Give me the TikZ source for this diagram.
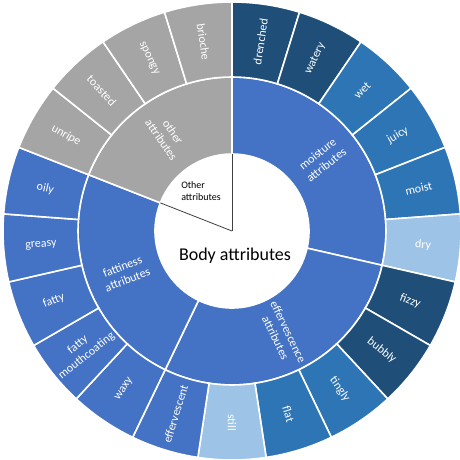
\documentclass[tikz,border=0pt]{standalone}
\usepackage{fontspec}
\setmainfont{Carlito}
\usetikzlibrary{positioning}

\definecolor{navyblue}{HTML}{1F4E79}
\definecolor{midblue}{HTML}{2E75B6}
\definecolor{lightblue}{HTML}{9DC3E6}
\definecolor{baseblue}{HTML}{4472C4}
\definecolor{othergray}{HTML}{A5A5A5}

\begin{document}
\begin{tikzpicture}[x=1pt, y=1pt,
    slice/.style={draw=white, line width=1.6pt},
    ringlabel/.style={text=white, font=\fontsize{12}{14}\selectfont, align=center, inner sep=0pt},
    holeline/.style={draw=black!75, line width=0.8pt}]

        \fill[white] (-232,-228) rectangle (228,231);
        \useasboundingbox (-232,-228) rectangle (228,231);
        \coordinate (O) at (0,0);

        % inner ring: colour / first leaf / number of leaves / label
        \foreach \col/\first/\num/\lab [count=\k] in
            {baseblue/0/6/{moisture\\attributes},
             baseblue/6/6/{effervescence\\attributes},
             baseblue/12/5/{fattiness\\attributes},
             othergray/17/4/{other\\attributes}}{
            \pgfmathsetmacro\a{90-\first*360/21}
            \pgfmathsetmacro\b{90-(\first+\num)*360/21}
            \pgfmathsetmacro\m{(\a+\b)/2}
            \pgfmathsetmacro\rot{\m>90.5 ? \m-180 : (\m<-90.5 ? \m+180 : \m)}
            \filldraw[slice, fill=\col] (\a:77) arc[start angle=\a, end angle=\b, radius=77pt]
                -- (\b:154) arc[start angle=\b, end angle=\a, radius=154pt] -- cycle;
            \node[ringlabel, rotate=\rot] (group\k) at (\m:115) {\lab};
        }

        % outer ring, one slice per leaf
        \foreach \col/\lab [count=\i from 0] in
            {navyblue/drenched, navyblue/watery, midblue/wet, midblue/juicy,
             midblue/moist, lightblue/dry, navyblue/fizzy, navyblue/bubbly,
             midblue/tingly, midblue/flat, lightblue/still, baseblue/effervescent,
             baseblue/waxy, baseblue/{fatty\\mouthcoating}, baseblue/fatty,
             baseblue/greasy, baseblue/oily, othergray/unripe, othergray/toasted,
             othergray/spongy, othergray/brioche}{
            \pgfmathsetmacro\a{90-\i*360/21}
            \pgfmathsetmacro\b{90-(\i+1)*360/21}
            \pgfmathsetmacro\m{(\a+\b)/2}
            \pgfmathsetmacro\rot{\m<-90.5 ? \m+180 : \m}
            \filldraw[slice, fill=\col] (\a:154) arc[start angle=\a, end angle=\b, radius=154pt]
                -- (\b:229) arc[start angle=\b, end angle=\a, radius=229pt] -- cycle;
            \node[ringlabel, rotate=\rot] (leaf\i) at (\m:191.5) {\lab};
        }

        % hole
        \fill[white] (O) circle[radius=75pt];
        \coordinate (holetop) at (90:77);
        \coordinate (holeother) at (158.57:77);
        \draw[holeline] (O) -- (holetop);
        \draw[holeline] (O) -- (holeother);

        \node[align=left, inner sep=0pt, font=\fontsize{10}{12}\selectfont] (other) at (-31,40) {Other\\attributes};
        \node[inner sep=0pt, font=\fontsize{18}{20}\selectfont] (body) at (3,-25) {Body attributes};
    \end{tikzpicture}
\end{document}
